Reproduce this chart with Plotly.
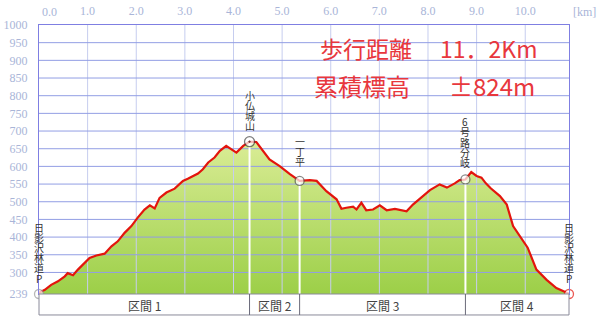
import plotly.graph_objects as go

# ---- data ----
dist_km = [0.00, 0.01, 0.12, 0.25, 0.39, 0.53, 0.59, 0.70, 0.80, 0.94, 1.04, 1.18, 1.35, 1.49, 1.62,
           1.76, 1.90, 2.03, 2.17, 2.28, 2.38, 2.48, 2.62, 2.79, 2.96, 3.06, 3.27, 3.37, 3.48, 3.61,
           3.72, 3.85, 3.99, 4.06, 4.20, 4.33, 4.47, 4.61, 4.74, 4.95, 5.16, 5.36, 5.57, 5.71, 5.91,
           6.12, 6.22, 6.32, 6.46, 6.53, 6.63, 6.73, 6.87, 7.01, 7.15, 7.32, 7.56, 7.69, 7.90, 8.04,
           8.24, 8.39, 8.55, 8.65, 8.77, 8.89, 9.00, 9.10, 9.19, 9.29, 9.48, 9.62, 9.75, 9.89, 10.05,
           10.23, 10.44, 10.64, 10.77, 10.90]
elev_m = [239, 243, 251, 265, 275, 289, 298, 292, 308, 327, 341, 348, 353, 374, 388,
          412, 431, 455, 478, 490, 481, 511, 526, 537, 559, 565, 580, 592, 611, 625,
          644, 658, 644, 639, 658, 670, 669, 644, 620, 601, 578, 559, 561, 559, 530,
          507, 480, 483, 486, 478, 497, 476, 478, 490, 476, 480, 473, 492, 516, 533,
          549, 540, 552, 561, 563, 584, 573, 568, 552, 538, 516, 492, 431, 402, 370,
          308, 279, 256, 247, 240]

wp_names = ["日影沢林道P", "小仏城山", "一丁平", "6号路分岐", "日影沢林道P"]
wp_km = [0.0, 4.33, 5.36, 8.77, 10.90]
wp_m = [239, 670, 559, 563, 239]

sections = ["区間 1", "区間 2", "区間 3", "区間 4"]

x_ticks = [0, 1, 2, 3, 4, 5, 6, 7, 8, 9, 10]
x_ticktext = ["0.0", "1.0", "2.0", "3.0", "4.0", "5.0", "6.0", "7.0", "8.0", "9.0", "10.0"]
y_ticks = [239, 300, 350, 400, 450, 500, 550, 600, 650, 700, 750, 800, 850, 900, 950, 1000]

summary_labels = ["歩行距離", "累積標高"]
summary_values = ["11．2Km", "±824m"]

X_MAX = 10.9
Y_MIN, Y_MAX = 239, 1000

# ---- styles ----
tick_col = "#a9b5d8"
hgrid_col = "#929ee4"
vgrid_col = "#c6cdef"
border_col = "#7f7fe2"
red = "#e3150d"
txt_red = "#e8373d"

fig = go.Figure()

# area fill
fig.add_trace(go.Scatter(
    x=dist_km, y=elev_m, mode="lines", line=dict(width=0, color="rgba(0,0,0,0)"),
    fill="tozeroy",
    fillgradient=dict(type="vertical", start=Y_MIN, stop=680,
                      colorscale=[[0, "#9ccf48"], [1, "#dbed97"]]),
    hoverinfo="skip", showlegend=False))

# grid lines drawn above the fill
gx, gy = [], []
for t in x_ticks[1:]:
    gx += [t, t, None]
    gy += [Y_MIN, Y_MAX, None]
fig.add_trace(go.Scatter(x=gx, y=gy, mode="lines", line=dict(color=vgrid_col, width=1),
                         hoverinfo="skip", showlegend=False))
hx, hy = [], []
for t in y_ticks[1:-1]:
    hx += [0, X_MAX, None]
    hy += [t, t, None]
fig.add_trace(go.Scatter(x=hx, y=hy, mode="lines", line=dict(color=hgrid_col, width=1),
                         hoverinfo="skip", showlegend=False))

# white vertical lines at waypoints
vx, vy = [], []
for k, m in zip(wp_km[1:-1], wp_m[1:-1]):
    vx += [k, k, None]
    vy += [Y_MIN, m, None]
fig.add_trace(go.Scatter(x=vx, y=vy, mode="lines", line=dict(color="white", width=2),
                         hoverinfo="skip", showlegend=False))

# profile line
fig.add_trace(go.Scatter(x=dist_km, y=elev_m, mode="lines", line=dict(color=red, width=2.2),
                         hoverinfo="skip", showlegend=False))

# waypoint markers
fig.add_trace(go.Scatter(
    x=wp_km, y=wp_m, mode="markers", cliponaxis=False,
    marker=dict(size=[9, 10, 9, 9, 9],
                symbol=["circle", "circle-dot", "circle", "circle", "circle"],
                color="white",
                line=dict(color=["#9a9a9a", "#444444", "#555555", "#555555", red], width=1.3)),
    hoverinfo="skip", showlegend=False))

# vertical (tategaki) waypoint labels, one glyph per row
CH = 10.2
for name, k, m, off in zip(wp_names, wp_km, wp_m, [16, 16, 19, 17, 16]):
    n = len(name)
    for i, ch in enumerate(name):
        fig.add_annotation(x=k, y=m, xref="x", yref="y", text=ch, showarrow=False,
                           xanchor="center", yanchor="middle",
                           yshift=off + (n - 1 - i) * CH,
                           font=dict(family="Noto Sans CJK JP", size=10, color="#333333"))

# section bar
fig.add_shape(type="rect", xref="paper", yref="paper", x0=0, x1=1, y0=-0.078, y1=0,
              line=dict(color="#8a8a9a", width=1), fillcolor="white", layer="above")
bounds = [0.0] + wp_km[1:-1] + [X_MAX]
for b in wp_km[1:-1]:
    fig.add_shape(type="line", xref="x", yref="paper", x0=b, x1=b, y0=-0.078, y1=0,
                  line=dict(color="#6a6a7a", width=1), layer="above")
for i, s in enumerate(sections):
    fig.add_annotation(x=(bounds[i] + bounds[i + 1]) / 2, y=0, xref="x", yref="paper",
                       yanchor="middle", yshift=-11, text=s, showarrow=False,
                       font=dict(family="Noto Sans CJK JP", size=12, color="#444444"))

# summary text
for lab, val, yv, xl, xv, fs in zip(summary_labels, summary_values, [936, 828],
                                    [5.73, 5.61], [8.20, 8.39], [23, 24]):
    fig.add_annotation(x=xl, y=yv, xref="x", yref="y", text=lab, showarrow=False,
                       xanchor="left", yanchor="middle",
                       font=dict(family="Noto Sans CJK JP", size=fs, color=txt_red))
    fig.add_annotation(x=xv, y=yv, xref="x", yref="y", text=val, showarrow=False,
                       xanchor="left", yanchor="middle",
                       font=dict(family="Noto Sans CJK JP", size=fs, color=txt_red))

# 0.0 label and [km] unit
fig.add_annotation(x=0, y=1, xref="x", yref="paper", text=x_ticktext[0], showarrow=False,
                   xanchor="center", yanchor="bottom", xshift=10, yshift=4,
                   font=dict(family="Liberation Serif", size=12, color=tick_col))
fig.add_annotation(x=1, y=1, xref="paper", yref="paper", text="[km]", showarrow=False,
                   xanchor="left", yanchor="bottom", xshift=2, yshift=4,
                   font=dict(family="Liberation Serif", size=12, color=tick_col))

fig.update_layout(
    width=600, height=317,
    margin=dict(l=39, r=31, t=25, b=23, pad=0, autoexpand=False),
    plot_bgcolor="white", paper_bgcolor="white",
    xaxis=dict(range=[0, X_MAX], side="top", tickvals=x_ticks[1:], ticktext=x_ticktext[1:],
               showgrid=False, zeroline=False, showline=True, mirror=True, automargin=False,
               linecolor=border_col, linewidth=1, ticks="", ticklabelstandoff=4,
               tickfont=dict(family="Liberation Serif", size=12, color=tick_col)),
    yaxis=dict(range=[Y_MIN, Y_MAX], tickvals=y_ticks, showgrid=False, zeroline=False,
               showline=True, mirror=True, linecolor=border_col, linewidth=1, ticks="",
               ticklabelstandoff=8, automargin=False,
               tickfont=dict(family="Liberation Serif", size=12, color=tick_col)),
)

fig.write_html("out.html")
